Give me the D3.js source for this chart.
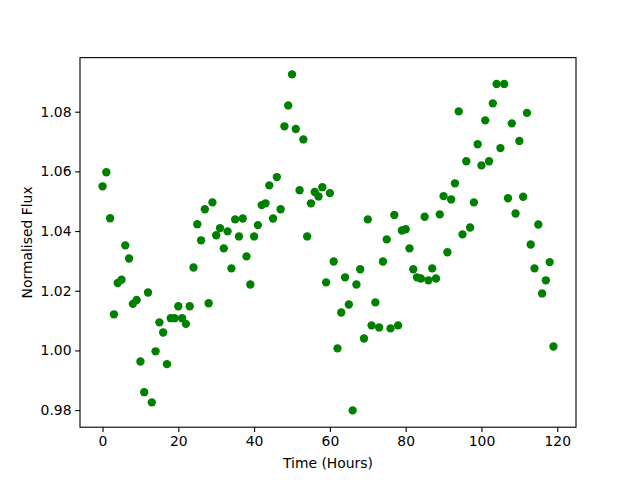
<!DOCTYPE html>
<html>
<head>
<meta charset="utf-8">
<script src="https://cdn.jsdelivr.net/npm/d3@7"></script>
<style>
  html, body { margin: 0; padding: 0; background: #fff; }
  svg { display: block; }
  text { font-family: "DejaVu Sans", sans-serif; fill: #000; }
</style>
</head>
<body>
<svg id="chart" width="640" height="480"></svg>
<script>
const hours = [0,1,2,3,4,5,6,7,8,9,10,11,12,13,14,15,16,17,18,19,
  20,21,22,23,24,25,26,27,28,29,30,31,32,33,34,35,36,37,38,39,
  40,41,42,43,44,45,46,47,48,49,50,51,52,53,54,55,56,57,58,59,
  60,61,62,63,64,65,66,67,68,69,70,71,72,73,74,75,76,77,78,79,
  80,81,82,83,84,85,86,87,88,89,90,91,92,93,94,95,96,97,98,99,
  100,101,102,103,104,105,106,107,108,109,110,111,112,113,114,115,116,117,118,119];
const flux = [
  1.0550,1.0597,1.0443,1.0121,1.0226,1.0237,1.0352,1.0308,1.0156,1.0169,
  0.9963,0.9860,1.0194,0.9826,0.9997,1.0094,1.0060,0.9954,1.0108,1.0108,
  1.0148,1.0108,1.0089,1.0148,1.0278,1.0423,1.0369,1.0473,1.0158,1.0496,
  1.0386,1.0410,1.0342,1.0399,1.0275,1.0439,1.0382,1.0442,1.0315,1.0221,
  1.0382,1.0420,1.0487,1.0493,1.0553,1.0442,1.0581,1.0473,1.0751,1.0821,
  1.0925,1.0742,1.0537,1.0707,1.0382,1.0493,1.0531,1.0516,1.0547,1.0228,
  1.0527,1.0298,1.0007,1.0127,1.0245,1.0154,0.9799,1.0221,1.0272,1.0040,
  1.0439,1.0084,1.0161,1.0077,1.0298,1.0372,1.0074,1.0454,1.0084,1.0402,
  1.0406,1.0342,1.0272,1.0245,1.0241,1.0448,1.0235,1.0275,1.0241,1.0456,
  1.0517,1.0329,1.0506,1.0560,1.0801,1.0389,1.0634,1.0412,1.0496,1.0691,
  1.0620,1.0771,1.0634,1.0828,1.0893,1.0678,1.0893,1.0510,1.0761,1.0459,
  1.0702,1.0515,1.0796,1.0355,1.0275,1.0422,1.0191,1.0235,1.0296,1.0013];
const xTicks = [0, 20, 40, 60, 80, 100, 120];
const yTicks = [0.98, 1.00, 1.02, 1.04, 1.06, 1.08];
const xLabel = "Time (Hours)";
const yLabel = "Normalised Flux";

const svg = d3.select("#chart");
const mLeft = 80, mTop = 57.6, pw = 496, ph = 369.6;

function padded(ext) {
  const m = (ext[1] - ext[0]) * 0.05;
  return [ext[0] - m, ext[1] + m];
}
const x = d3.scaleLinear().domain(padded(d3.extent(hours))).range([mLeft, mLeft + pw]);
const y = d3.scaleLinear().domain(padded(d3.extent(flux))).range([mTop + ph, mTop]);

const data = hours.map((h, i) => ({h, f: flux[i]}));

// points
svg.append("g")
  .selectAll("circle")
  .data(data)
  .join("circle")
  .attr("cx", d => x(d.h))
  .attr("cy", d => y(d.f))
  .attr("r", 4.17)
  .attr("fill", "#008000");

// frame
svg.append("rect")
  .attr("x", mLeft).attr("y", mTop)
  .attr("width", pw).attr("height", ph)
  .attr("fill", "none").attr("stroke", "#000").attr("stroke-width", 1.1);

const xAxis = svg.append("g")
  .attr("transform", `translate(0,${mTop + ph})`)
  .call(d3.axisBottom(x).tickValues(xTicks).tickFormat(d3.format("d")).tickSize(4.86).tickPadding(3.6));
const yAxis = svg.append("g")
  .attr("transform", `translate(${mLeft},0)`)
  .call(d3.axisLeft(y).tickValues(yTicks).tickFormat(d3.format(".2f")).tickSize(4.86).tickPadding(3.6));

[xAxis, yAxis].forEach(g => {
  g.select(".domain").remove();
  g.selectAll(".tick line").attr("stroke", "#000").attr("stroke-width", 1.1);
  g.selectAll(".tick text")
    .attr("font-family", "DejaVu Sans, sans-serif")
    .attr("font-size", "13.9px")
    .attr("fill", "#000");
});

svg.append("text")
  .attr("x", mLeft + pw / 2)
  .attr("y", 468)
  .attr("text-anchor", "middle")
  .attr("font-size", "13.9px")
  .text(xLabel);

svg.append("text")
  .attr("transform", `translate(32,${mTop + ph / 2}) rotate(-90)`)
  .attr("text-anchor", "middle")
  .attr("font-size", "13.9px")
  .text(yLabel);
</script>
</body>
</html>
